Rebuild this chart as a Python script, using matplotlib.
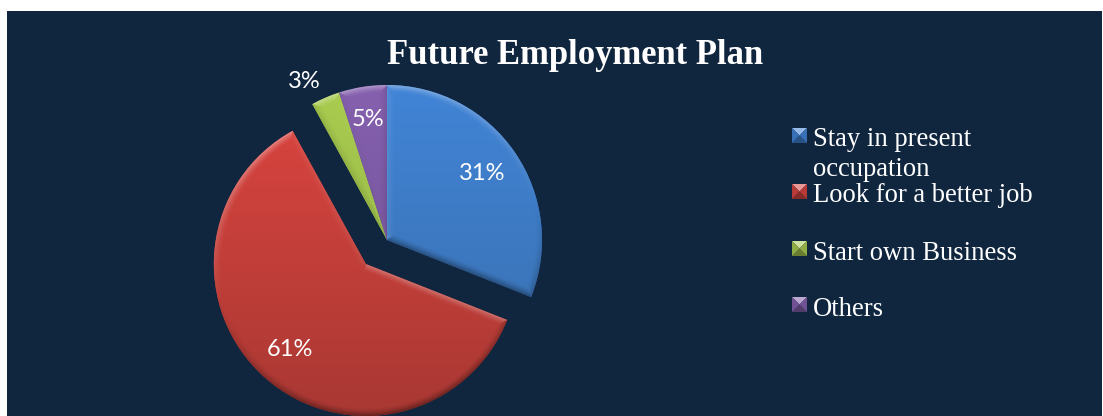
import numpy as np
import matplotlib
matplotlib.use('Agg')
import matplotlib.pyplot as plt
from matplotlib.patches import Polygon, Rectangle
from matplotlib.colors import to_rgb

categories = ['Stay in present\noccupation', 'Look for a better job', 'Start own Business', 'Others']
shares = [31, 61, 3, 5]
pull_out = [0, 32, 0, 0]

top_colors = ['#4184D6', '#D9443F', '#A9CC4F', '#8560AE']
bottom_colors = ['#396FAE', '#A93833', '#8FAF45', '#6F5296']
BG = '#10263F'

W, H = 1103, 416


def bevel_layer(wedge, top, bottom, width=8.0):
    # vertical fill plus a lit/shaded rim worked out from the wedge geometry
    cx, cy = wedge.center
    r = wedge.r
    x = np.arange(cx - r - 2, cx + r + 2, 0.5)
    y = np.arange(cy - r - 2, cy + r + 2, 0.5)
    xx, yy = np.meshgrid(x, y)
    dx, dy = xx - cx, yy - cy
    rho = np.hypot(dx, dy) + 1e-6
    a1 = np.radians(wedge.theta1)
    a2 = np.radians(wedge.theta2)

    # distance to the arc and to the two straight edges (rays from the centre)
    d_arc = r - rho
    d_1 = np.abs(dx * -np.sin(a1) + dy * np.cos(a1))
    d_2 = np.abs(dx * np.sin(a2) - dy * np.cos(a2))
    d_1[dx * np.cos(a1) + dy * np.sin(a1) < 0] = 1e6
    d_2[dx * np.cos(a2) + dy * np.sin(a2) < 0] = 1e6
    dist = np.stack([d_arc, d_1, d_2])
    near = np.argmin(dist, axis=0)
    d = np.min(dist, axis=0)

    # outward normal of the nearest edge
    nx = np.choose(near, [dx / rho, np.full_like(dx, np.sin(a1)), np.full_like(dx, -np.sin(a2))])
    ny = np.choose(near, [dy / rho, np.full_like(dx, -np.cos(a1)), np.full_like(dx, np.cos(a2))])

    t = np.clip((yy - (cy - r)) / (2 * r), 0, 1)[..., None]
    rgb = np.array(to_rgb(bottom)) * (1 - t) + np.array(to_rgb(top)) * t

    falloff = np.clip(1 - d / width, 0, 1) ** 1.5
    shade = (nx * -0.25 + ny * 0.95) * falloff
    shade = shade[..., None]
    rgb = np.where(shade > 0, rgb + (1 - rgb) * shade * 0.38, rgb * (1 + shade * 0.42))
    return np.clip(rgb, 0, 1), (x[0], x[-1], y[0], y[-1])


def legend_marker(ax, mx, my, color, s=15):
    # small pyramid swatch, four facets around the middle
    base = np.array(to_rgb(color))
    light = base + (1 - base) * 0.45
    dark = base * 0.62
    x, y = mx - s / 2, my - s / 2
    c = (mx, my)
    ax.add_patch(Polygon([(x, y + s), (x + s, y + s), c], fc=light, ec='none', zorder=6))
    ax.add_patch(Polygon([(x, y), (x + s, y), c], fc=dark, ec='none', zorder=6))
    ax.add_patch(Polygon([(x, y), (x, y + s), c], fc=base * 0.85, ec='none', zorder=6))
    ax.add_patch(Polygon([(x + s, y), (x + s, y + s), c], fc=base * 0.85, ec='none', zorder=6))


fig = plt.figure(figsize=(W / 100, H / 100), dpi=100, facecolor='white')
ax = fig.add_axes([0, 0, 1, 1])
ax.add_patch(Rectangle((7, 0), W - 8, H - 11, fc=BG, ec='none', zorder=0))

wedges, _ = ax.pie(shares, explode=pull_out, startangle=90, counterclock=False,
                   center=(387, H - 240), radius=155, frame=False, normalize=True)
ax.set_aspect('auto')
ax.axis('off')

# the pulled-out slice sits a little smaller than the others
wedges[1].set_radius(152)

for w, top, bot in zip(wedges, top_colors, bottom_colors):
    w.set_facecolor(bot)
    w.set_edgecolor('none')
    w.set_zorder(2)
    img, ext = bevel_layer(w, top, bot)
    im = ax.imshow(img, extent=ext, origin='lower', zorder=3, aspect='auto', interpolation='bilinear')
    im.set_clip_path(w)
ax.set_aspect('auto')
ax.set_xlim(0, W)
ax.set_ylim(0, H)

label_xy = [(482, 174), (290, 349), (304, 82), (368, 120)]
for (lx, ly), v in zip(label_xy, shares):
    ax.text(lx, H - ly, f'{v}%', color='white', fontsize=17, family='Lato',
            ha='center', va='center', zorder=5)

ax.text(575, H - 56, 'Future Employment Plan', color='white', fontsize=24.9, fontweight='bold',
        family='Liberation Serif', ha='center', va='center', zorder=5)

legend_y = [138, 194, 251, 307]
for name, ly, col in zip(categories, legend_y, top_colors):
    legend_marker(ax, 799.5, H - ly + 2.5, col)
    for i, part in enumerate(name.split('\n')):
        ax.text(813, H - (ly + i * 29) - 2, part, color='white', fontsize=19.2,
                family='Liberation Serif', ha='left', va='center', zorder=5)

fig.savefig('out.png', dpi=100, facecolor='white')
